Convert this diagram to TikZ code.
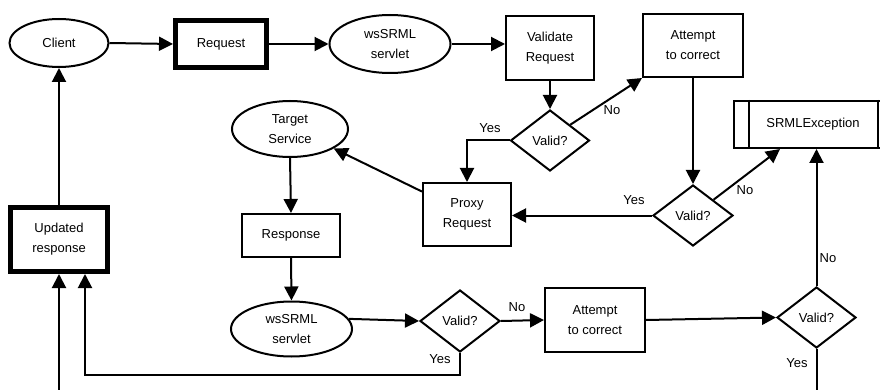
\documentclass[tikz,border=0pt]{standalone}
\usepackage{fontspec}
\setmainfont{Liberation Sans}
\usetikzlibrary{shapes.geometric,arrows.meta}

\begin{document}
\begin{tikzpicture}[x=1pt,y=-1pt,
  font=\fontsize{13}{20}\selectfont,
  every node/.style={inner sep=0pt, align=center},
  box/.style={draw, line width=2pt, rectangle},
  thickbox/.style={draw, line width=5pt, rectangle},
  oval/.style={draw, line width=2pt, ellipse},
  decision/.style={draw, line width=2pt, diamond},
  flow/.style={line width=2pt, -{Triangle[length=14pt,width=14pt]}},
  lbl/.style={font=\fontsize{13}{15}\selectfont}
]
\useasboundingbox (0,0) rectangle (880,390);
\clip (0,0) rectangle (880,390);

% request path
\node[oval, minimum width=99, minimum height=48] (client) at (59,43) {Client};
\node[thickbox, minimum width=91, minimum height=47] (request) at (221,44) {Request};
\node[oval, minimum width=121, minimum height=58] (srv1) at (390,44) {wsSRML\\servlet};
\node[box, minimum width=88, minimum height=64] (validate) at (550,48) {Validate\\Request};
\node[box, minimum width=100, minimum height=63] (fix1) at (693,45.5) {Attempt\\to correct};
\node[decision, minimum width=79, minimum height=61] (ok1) at (550,140.5) {Valid?};
\node[decision, minimum width=80, minimum height=61] (ok2) at (693,215.5) {Valid?};
\node[box, minimum width=88, minimum height=63] (proxy) at (467,214.5) {Proxy\\Request};
\node[oval, minimum width=116, minimum height=56] (target) at (290,129) {Target\\Service};

% exception box with side bars
\node[box, minimum width=158, minimum height=47] (exc) at (813,124.5) {SRMLException};
\draw[line width=2pt] ([xshift=16pt]exc.north west) -- ([xshift=16pt]exc.south west);
\draw[line width=2pt] ([xshift=-15pt]exc.north east) -- ([xshift=-15pt]exc.south east);

% response path
\node[box, minimum width=98, minimum height=43] (response) at (291,235.5) {Response};
\node[oval, minimum width=121, minimum height=55] (srv2) at (291.5,329) {wsSRML\\servlet};
\node[decision, minimum width=80, minimum height=62] (ok3) at (460,321) {Valid?};
\node[box, minimum width=100, minimum height=64] (fix2) at (595,320) {Attempt\\to correct};
\node[decision, minimum width=79, minimum height=61] (ok4) at (816.5,317.5) {Valid?};
\node[thickbox, minimum width=97, minimum height=64] (updated) at (59,239.5) {Updated\\response};

% connectors
\draw[flow] (client.east) -- (request.west);
\draw[flow] (request.east) -- (srv1.west);
\draw[flow] (srv1.east) -- (srv1.east -| validate.west);
\draw[flow] (validate.south) -- (ok1.north);
\draw[flow] (ok1.north east) -- (fix1.south west);
\draw[flow] (ok1.west) -| (proxy.north);
\draw[flow] (fix1.south) -- (ok2.north);
\draw[flow] (ok2.west) -- (ok2.west -| proxy.east);
\coordinate (excin) at ([xshift=-33pt]exc.south);
\draw[flow] (ok2.north east) -- (excin);
\draw[flow] (proxy.153) -- (target.-24);
\draw[flow] (target.south) -- (response.north);
\draw[flow] (response.south) -- (srv2.north);
\draw[flow] (srv2.10) -- (ok3.west);
\draw[flow] (ok3.east) -- (fix2.west);
\draw[flow] (fix2.east) -- (ok4.west);
\draw[flow] (ok4.north) -- (ok4.north |- exc.south);
\coordinate (yesturn) at (85,375);
\draw[flow] (ok3.south) |- (yesturn) -- (updated.south -| yesturn);
\coordinate (offpage) at (59,400);
\draw[flow] (ok4.south) |- (offpage) -- (updated.south);
\draw[flow] (updated.north) -- (client.south);

% branch labels
\node[lbl] (l1) at (612,110) {No};
\node[lbl] (l2) at (490,128) {Yes};
\node[lbl] (l3) at (634,200) {Yes};
\node[lbl] (l4) at (745,190) {No};
\node[lbl] (l5) at (517,307) {No};
\node[lbl] (l6) at (440,359) {Yes};
\node[lbl] (l7) at (828,258) {No};
\node[lbl] (l8) at (797,363) {Yes};
\end{tikzpicture}
\end{document}
